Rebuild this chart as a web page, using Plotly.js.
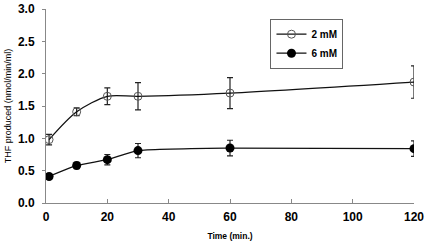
<!DOCTYPE html>
<html><head><meta charset="utf-8">
<script src="https://cdn.plot.ly/plotly-3.0.1.min.js"></script>
<style>html,body{margin:0;padding:0;background:#fff}</style>
</head><body><div id="chart" style="width:426px;height:246px"></div>
<script>
const timeMin = [1, 10, 20, 30, 60, 120];
const thf2mM = [0.98, 1.41, 1.65, 1.65, 1.70, 1.87];
const err2mM = [0.08, 0.06, 0.13, 0.21, 0.24, 0.25];
const thf6mM = [0.41, 0.58, 0.67, 0.81, 0.85, 0.84];
const err6mM = [0.04, 0.05, 0.08, 0.11, 0.12, 0.12];
const xTicks = [0, 20, 40, 60, 80, 100, 120];
const yTicks = [0.0, 0.5, 1.0, 1.5, 2.0, 2.5, 3.0];

const font = {family: 'Liberation Sans, Arial, sans-serif', color: '#000'};
const traces = [
  {x: timeMin, y: thf2mM, name: '2 mM', type: 'scatter', mode: 'lines+markers',
   line: {color: '#111', width: 1.3, shape: 'spline', smoothing: 0.8},
   marker: {symbol: 'circle-open', size: 8, color: '#555', line: {width: 1}},
   error_y: {type: 'data', array: err2mM, color: '#222', thickness: 1.2, width: 3}},
  {x: timeMin, y: thf6mM, name: '6 mM', type: 'scatter', mode: 'lines+markers',
   line: {color: '#111', width: 1.3, shape: 'spline', smoothing: 0.5},
   marker: {symbol: 'circle', size: 9, color: '#000'},
   error_y: {type: 'data', array: err6mM, color: '#222', thickness: 1.2, width: 3}}
];
const layout = {
  width: 426, height: 246,
  margin: {l: 46, r: 12, t: 9, b: 43},
  paper_bgcolor: '#fff', plot_bgcolor: '#fff',
  showlegend: true,
  legend: {x: 0.61, y: 0.95, xanchor: 'left', yanchor: 'top',
    bordercolor: '#666', borderwidth: 1, bgcolor: '#fff',
    font: Object.assign({}, font, {size: 10, weight: 'bold'}),
    itemwidth: 30, tracegroupgap: 6},
  xaxis: {range: [0, 120], tickvals: xTicks, ticktext: xTicks.map(String),
    showgrid: false, zeroline: false, showline: true, linecolor: '#888', linewidth: 1,
    ticks: 'inside', ticklen: 4, tickcolor: '#888', ticklabelstandoff: 3,
    tickfont: Object.assign({}, font, {size: 12, weight: 'bold'}),
    title: {text: 'Time (min.)', font: Object.assign({}, font, {size: 8.5, weight: 'bold'}), standoff: 9}},
  yaxis: {range: [0, 3.0], tickvals: yTicks, ticktext: yTicks.map(v => v.toFixed(1)),
    showgrid: false, zeroline: false, showline: true, linecolor: '#888', linewidth: 1,
    ticks: 'outside', ticklen: 3, tickcolor: '#888', ticklabelstandoff: 5,
    tickfont: Object.assign({}, font, {size: 12, weight: 'bold'}),
    title: {text: 'THF produced (nmol/min/ml)', font: Object.assign({}, font, {size: 9}), standoff: 4}}
};
Plotly.newPlot('chart', traces, layout, {staticPlot: true, displayModeBar: false});
</script></body></html>
